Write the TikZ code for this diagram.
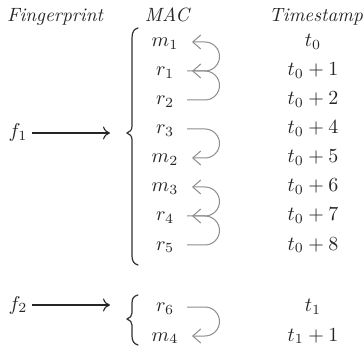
\documentclass[tikz,border=0pt]{standalone}
\usetikzlibrary{arrows.meta,calc}
\begin{document}
\begin{tikzpicture}[x=0.5pt,y=-0.5pt,
  every node/.style={inner sep=0pt,text=black!85},
  hdr/.style={anchor=base,font=\fontsize{9.6}{11}\selectfont\itshape},
  mac/.style={anchor=base},
  ts/.style={anchor=base},
  farrow/.style={-{To[length=3.5pt,width=6.5pt]},line width=0.55pt,draw=black!85},
  garrow/.style={-{Straight Barb[length=4pt,width=7pt]},line width=0.5pt,draw=black!45},
  bracepath/.style={line width=0.6pt,draw=black!80,line cap=round}]
\useasboundingbox (0,0) rectangle (364,347);
% headers
\node[hdr] (hF) at (55,22) {Fingerprint};
\node[hdr] (hM) at (167,22) {MAC};
\node[hdr] (hT) at (316,22) {Timestamp};
% MAC column
\node[mac] (m1) at (165,47)  {$m_1$};
\node[mac] (r1) at (165,76)  {$r_1$};
\node[mac] (r2) at (165,105) {$r_2$};
\node[mac] (r3) at (165,134) {$r_3$};
\node[mac] (m2) at (165,163) {$m_2$};
\node[mac] (m3) at (165,192) {$m_3$};
\node[mac] (r4) at (165,221) {$r_4$};
\node[mac] (r5) at (165,250) {$r_5$};
\node[mac] (r6) at (165,312) {$r_6$};
\node[mac] (m4) at (165,341) {$m_4$};
% timestamps
\node[ts] (t1) at (313,47)  {$t_0$};
\node[ts] (t2) at (313,76)  {$t_0+1$};
\node[ts] (t3) at (313,105) {$t_0+2$};
\node[ts] (t4) at (313,134) {$t_0+4$};
\node[ts] (t5) at (313,163) {$t_0+5$};
\node[ts] (t6) at (313,192) {$t_0+6$};
\node[ts] (t7) at (313,221) {$t_0+7$};
\node[ts] (t8) at (313,250) {$t_0+8$};
\node[ts] (t9) at (313,312) {$t_1$};
\node[ts] (t10) at (313,341) {$t_1+1$};
% fingerprints
\node (f1) at (18,133) {$f_1$};
\node (f2) at (18,305) {$f_2$};
\coordinate (a1) at (110,133);
\coordinate (a2) at (110,305);
\draw[farrow] ([xshift=2pt]f1.east) -- (a1);
\draw[farrow] ([xshift=2pt]f2.east) -- (a2);
% braces
\coordinate (b1) at (127,133);
\coordinate (b2) at (127,319);
\draw[bracepath] (138,28) .. controls (134,29) and (132,32) .. (132,38) -- (132,126)
  .. controls (132,130) and (130,132) .. (b1)
  .. controls (130,134) and (132,136) .. (132,140) -- (132,256)
  .. controls (132,261) and (134,264) .. (138,265);
\draw[bracepath] (138,295) .. controls (134,296) and (132,298) .. (132,303) -- (132,313)
  .. controls (132,316) and (130,318) .. (b2)
  .. controls (130,320) and (132,322) .. (132,325) -- (132,336)
  .. controls (132,341) and (134,344) .. (138,345);
% loops
\newcommand\loopup[2]{\draw[garrow] ($(#1.base)+(22,-5)$) -- ++(18,0)
  arc[start angle=-90,end angle=90,radius=7.25pt] -- ($(#2.base)+(27,-5)$);}
\newcommand\loopdown[2]{\draw[garrow] ($(#1.base)+(22,-5)$) -- ++(18,0)
  arc[start angle=90,end angle=-90,radius=7.25pt] -- ($(#2.base)+(27,-5)$);}
\loopup{r2}{r1}
\loopup{r1}{m1}
\loopdown{r3}{m2}
\loopup{r5}{r4}
\loopup{r4}{m3}
\loopdown{r6}{m4}
\end{tikzpicture}
\end{document}
